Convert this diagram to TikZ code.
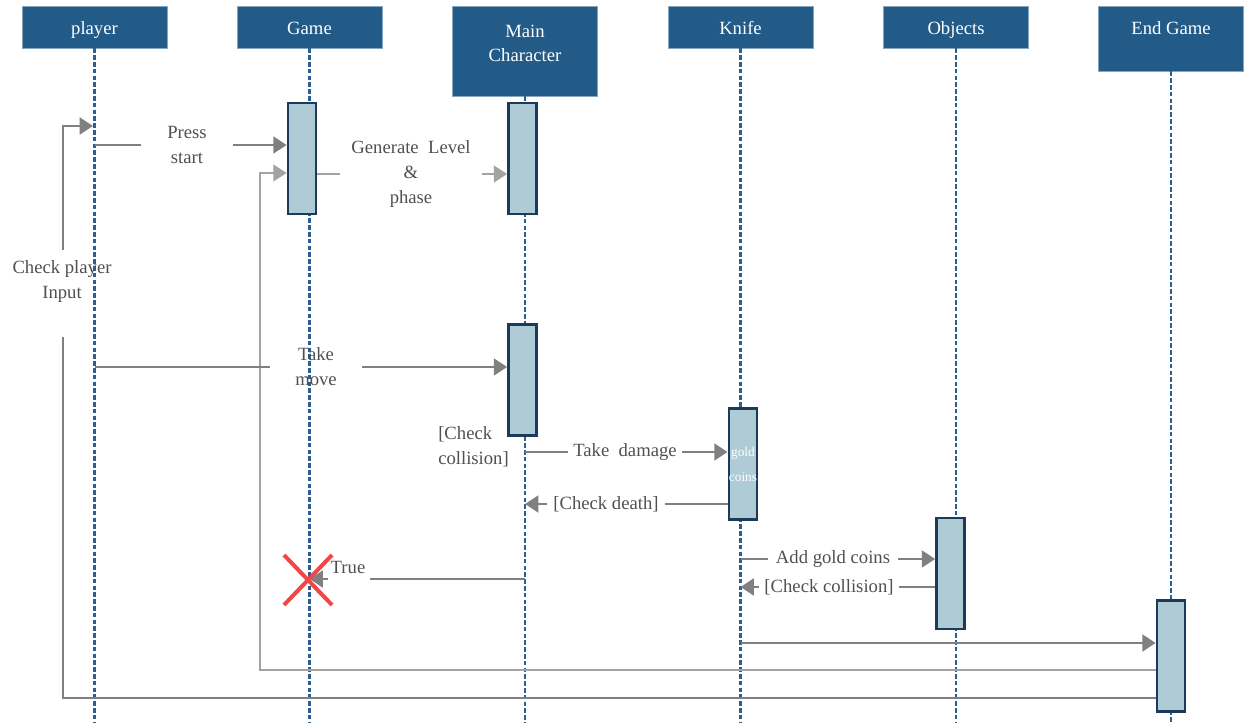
\documentclass[tikz,border=0pt]{standalone}
\usepackage{fontspec}
\setmainfont{Liberation Serif}
\usetikzlibrary{arrows.meta,shapes.misc}
\definecolor{hdrblue}{HTML}{235B88}
\definecolor{lifeblue}{HTML}{2B5F92}
\definecolor{barfill}{HTML}{AECBD6}
\definecolor{barline}{HTML}{1B3A5C}
\definecolor{msggray}{HTML}{808080}
\definecolor{msglight}{HTML}{A3A3A3}
\definecolor{lbltext}{HTML}{505050}
\definecolor{xred}{HTML}{F24545}
\begin{document}
\begin{tikzpicture}[x=0.75pt,y=-0.75pt,
  hdr/.style={fill=hdrblue, draw=hdrblue!55!white, line width=0.6pt, inner sep=0pt,
    minimum width=108.75pt, text=white, font=\fontsize{14}{18}\selectfont, align=center,
    text height=12pt, text depth=1pt},
  hdrtext/.style={text=white, font=\fontsize{14}{18}\selectfont, align=center, inner sep=0pt},
  lifeline/.style={draw=lifeblue, line width=1.6pt, dash pattern=on 3.5pt off 1.6pt},
  actbar/.style={fill=barfill, draw=barline, line width=2pt, minimum width=21pt,
    minimum height=83.25pt, inner sep=0pt},
  msgline/.style={draw=msggray, line width=2.2pt},
  msgarrow/.style={msgline, -{Triangle[length=10pt,width=12.5pt]}},
  lightline/.style={draw=msglight, line width=1.6pt},
  lightarrow/.style={lightline, -{Triangle[length=10pt,width=12.5pt]}},
  lbl/.style={text=lbltext, font=\fontsize{14}{18.75}\selectfont, align=center, inner ysep=0pt},
]
\useasboundingbox (0,0) rectangle (1244,723);

% headers
\node[hdr, minimum height=31.5pt] (hPlayer) at (94.5,27) {player};
\node[hdr, minimum height=31.5pt] (hGame) at (309.5,27) {Game};
\node[hdr, minimum height=67.5pt, text height=0pt, text depth=0pt] (hMain) at (525,51) {};
\node[hdrtext] (tMain) at (525,43) {Main\\Character};
\node[hdr, minimum height=48.75pt, text height=0pt, text depth=0pt] (hEnd) at (1171,38.5) {};
\node[hdrtext] (tEnd) at (1171,28) {End Game};
\node[hdr, minimum height=31.5pt] (hKnife) at (740.5,27) {Knife};
\node[hdr, minimum height=31.5pt] (hObj) at (956,27) {Objects};

% lifelines
\coordinate (ePlayer) at (94.5,723);
\coordinate (eGame) at (309.5,723);
\coordinate (eMain) at (525,723);
\coordinate (eKnife) at (740.5,723);
\coordinate (eObj) at (956,723);
\coordinate (eEnd) at (1171,723);
\draw[lifeline] (hPlayer.south) -- (ePlayer);
\draw[lifeline] (hGame.south) -- (eGame);
\draw[lifeline] (hMain.south) -- (eMain);
\draw[lifeline] (hKnife.south) -- (eKnife);
\draw[lifeline] (hObj.south) -- (eObj);
\draw[lifeline] (hEnd.south) -- (eEnd);

% activation bars
\node[actbar] (bGame) at (302,158.5) {};
\node[actbar] (bMain1) at (522.5,158.5) {};
\node[actbar] (bMain2) at (522.5,380) {};
\node[actbar, text=white, font=\fontsize{10}{18.75}\selectfont, align=center] (bKnife) at (743,464) {gold\\coins};
\node[actbar] (bObj) at (950.5,573.5) {};
\node[actbar] (bEnd) at (1171,656) {};

% labels
\node[lbl, inner xsep=19.5pt] (lPress) at (187,145) {Press\\start};
\node[lbl, inner xsep=8.5pt] (lGen) at (411,174) {Generate\ \ Level\\\&\\phase};
\node[lbl, inner xsep=0pt] (lCheck) at (62,282) {Check player\\Input};
\node[lbl, inner xsep=19pt] (lMove) at (316,367) {Take\\move};
\node[lbl, align=left, inner xsep=0pt, anchor=west] (lColl1) at (438,447) {[Check\\collision]};
\node[lbl, inner xsep=4pt] (lDmg) at (625,452) {Take\ \ damage};
\node[lbl, inner xsep=4.5pt] (lDeath) at (606,504) {[Check death]};
\node[lbl, inner xsep=6pt] (lAdd) at (833,559) {Add gold coins};
\node[lbl, inner xsep=4pt] (lColl2) at (829,587) {[Check collision]};
\node[lbl, inner xsep=0pt] (lTrue) at (348,567) {True};

% messages
\draw[msgline] (lPress.west -| hPlayer.south) -- (lPress.west);
\draw[msgarrow] (lPress.east) -- (lPress.east -| bGame.west);

\draw[lightline] (lGen.west -| bGame.east) -- (lGen.west);
\draw[lightarrow] (lGen.east) -- (lGen.east -| bMain1.west);

\coordinate (c1) at (63,698);
\coordinate (c2) at (93,126);
\coordinate (c3) at (63,337);
\coordinate (c4) at (63,250);
\draw[msgline] (c1 -| bEnd.west) -- (c1) -- (c3);
\draw[msgarrow] (c4) -- (c4 |- c2) -- (c2);

\coordinate (d1) at (260,670);
\coordinate (d2) at (260,173);
\draw[lightarrow] (d1 -| bEnd.west) -- (d1) -- (d2) -- (d2 -| bGame.west);

\draw[msgline] (lMove.west -| hPlayer.south) -- (lMove.west);
\draw[msgarrow] (lMove.east) -- (lMove.east -| bMain2.west);

\draw[msgline] (lDmg.west -| hMain.south) -- (lDmg.west);
\draw[msgarrow] (lDmg.east) -- (lDmg.east -| bKnife.west);

\draw[msgline] (lDeath.east -| bKnife.west) -- (lDeath.east);
\draw[msgarrow] (lDeath.west) -- (lDeath.west -| hMain.south);

\draw[msgline] (lAdd.west -| hKnife.south) -- (lAdd.west);
\draw[msgarrow] (lAdd.east) -- (lAdd.east -| bObj.west);

\draw[msgline] (lColl2.east -| bObj.west) -- (lColl2.east);
\draw[msgarrow] (lColl2.west) -- (lColl2.west -| hKnife.south);

\coordinate (t1) at (370,579);
\coordinate (t2) at (328,579);
\draw[msgline] (t1 -| hMain.south) -- (t1);
\draw[msgarrow] (t2) -- (t2 -| hGame.south);

\coordinate (k1) at (740,643);
\draw[msgarrow] (k1 -| hKnife.south) -- (k1 -| bEnd.west);

% destruction mark
\node[cross out, draw=xred, line width=3pt, minimum width=33pt, minimum height=34.5pt, inner sep=0pt] (xMark) at (308,580) {};
\end{tikzpicture}
\end{document}
